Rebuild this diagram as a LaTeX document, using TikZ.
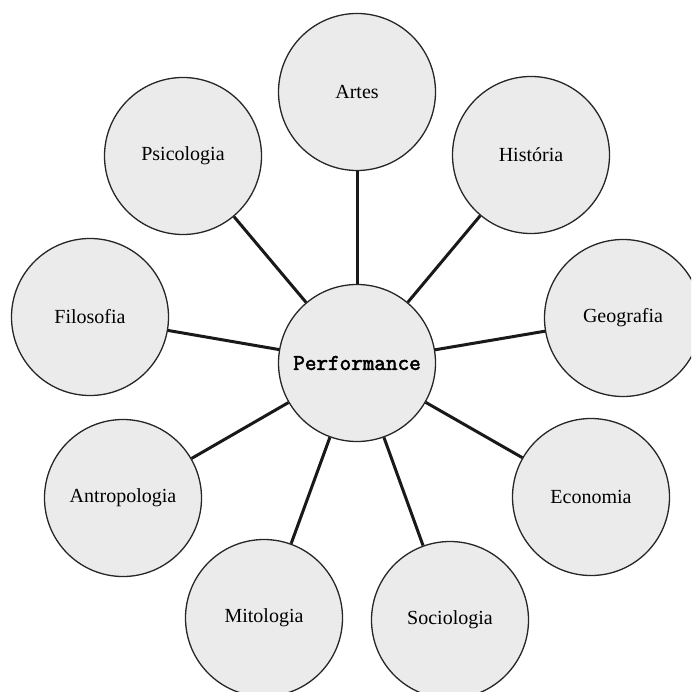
\documentclass[tikz,border=0pt]{standalone}
\usepackage{fontspec}
\setmainfont{Liberation Serif}
\newfontfamily\perffont[FakeBold=2.5]{Latin Modern Mono}
\begin{document}
\begin{tikzpicture}[x=1pt,y=-1pt,
  topic/.style={circle,draw=black!85,line width=1.3pt,fill=black!8,minimum size=157pt,inner sep=0pt,font=\fontsize{20}{24}\selectfont},
  link/.style={line width=3pt,black!90}]
\useasboundingbox (0,0) rectangle (691,692);
\clip (0,0) rectangle (691,692);
\node[topic,font=\fontsize{22.5}{26}\selectfont\perffont] (perf) at (357,363) {Performance};
\node[topic] (artes) at (357,92) {Artes};
\node[topic] (psico) at (183,156) {Psicologia};
\node[topic] (hist) at (531,155) {História};
\node[topic] (filo) at (90,317) {Filosofia};
\node[topic] (geo) at (623,318) {Geografia};
\node[topic] (antro) at (123,498) {Antropologia};
\node[topic] (eco) at (591,497) {Economia};
\node[topic] (mito) at (264,618) {Mitologia};
\node[topic] (socio) at (450,620) {Sociologia};
\foreach \n in {artes,psico,hist,filo,geo,antro,eco,mito,socio}
  \draw[link] (perf) -- (\n);
\end{tikzpicture}
\end{document}
